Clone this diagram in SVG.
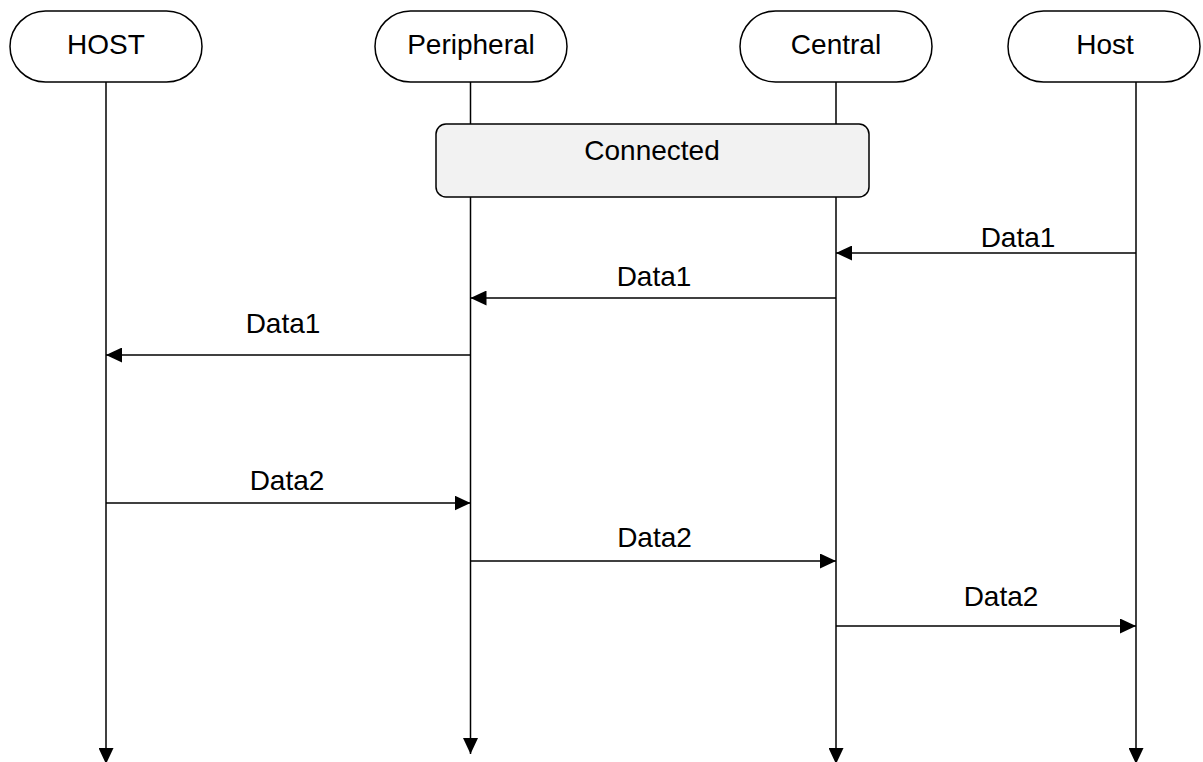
<svg xmlns="http://www.w3.org/2000/svg" width="1203" height="762" viewBox="0 0 1203 762">
<style>
.box{fill:#fff;stroke:#000;stroke-width:1.5}
.band{fill:#f2f2f2;stroke:#000;stroke-width:1.5}
.ll{stroke:#000;stroke-width:1.5;fill:none}
.msg{stroke:#000;stroke-width:1.5;fill:none}
text{font-family:"Liberation Sans",Arial,sans-serif;font-size:28px;fill:#000;text-anchor:middle}
</style>
<defs>
<marker id="ah" markerUnits="userSpaceOnUse" markerWidth="16" markerHeight="15" viewBox="0 0 16 15" refX="16" refY="7.5" orient="auto">
<path d="M0,0 L16,7.5 L0,15 Z" fill="#000"/>
</marker>
</defs>
<g id="connectors">
<line class="ll" x1="106" y1="82" x2="106" y2="764" marker-end="url(#ah)"/>
<line class="ll" x1="470.5" y1="82" x2="470.5" y2="754" marker-end="url(#ah)"/>
<line class="ll" x1="836" y1="82" x2="836" y2="764" marker-end="url(#ah)"/>
<line class="ll" x1="1136" y1="82" x2="1136" y2="764" marker-end="url(#ah)"/>
<line class="msg" x1="1136" y1="253" x2="836" y2="253" marker-end="url(#ah)"/>
<text x="1018" y="247">Data1</text>
<line class="msg" x1="836" y1="298" x2="470.5" y2="298" marker-end="url(#ah)"/>
<text x="654" y="286">Data1</text>
<line class="msg" x1="470.5" y1="355" x2="106" y2="355" marker-end="url(#ah)"/>
<text x="283" y="333">Data1</text>
<line class="msg" x1="106" y1="503" x2="470.5" y2="503" marker-end="url(#ah)"/>
<text x="287" y="490">Data2</text>
<line class="msg" x1="470.5" y1="561" x2="836" y2="561" marker-end="url(#ah)"/>
<text x="654.5" y="547">Data2</text>
<line class="msg" x1="836" y1="626" x2="1136" y2="626" marker-end="url(#ah)"/>
<text x="1001" y="606">Data2</text>
</g>
<g id="node-host-left">
<rect class="box" x="10" y="11" width="192" height="71" rx="35.5" ry="35.5"/>
<text x="106" y="54">HOST</text>
</g>
<g id="node-peripheral">
<rect class="box" x="375" y="11" width="192" height="71" rx="35.5" ry="35.5"/>
<text x="471" y="54">Peripheral</text>
</g>
<g id="node-central">
<rect class="box" x="740" y="11" width="192" height="71" rx="35.5" ry="35.5"/>
<text x="836" y="54">Central</text>
</g>
<g id="node-host-right">
<rect class="box" x="1008" y="11" width="192" height="71" rx="35.5" ry="35.5"/>
<text x="1105" y="54">Host</text>
</g>
<g id="node-connected">
<rect class="band" x="436" y="124" width="433" height="73" rx="10" ry="10"/>
<text x="652" y="160">Connected</text>
</g>
</svg>
